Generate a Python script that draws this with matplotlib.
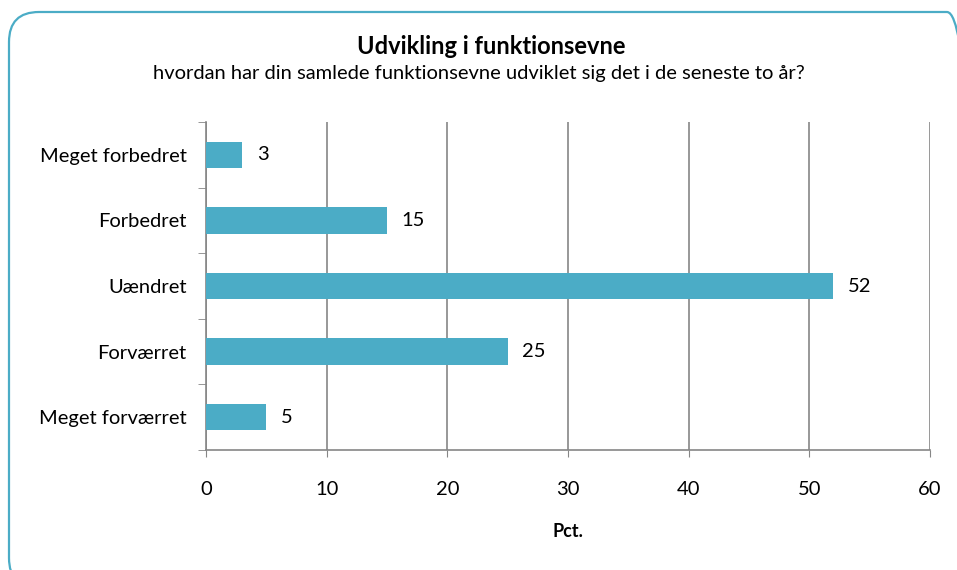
import matplotlib
matplotlib.use("Agg")
from matplotlib import pyplot as plt
from matplotlib.patches import FancyBboxPatch

categories = ["Meget forbedret", "Forbedret", "Uændret", "Forværret", "Meget forværret"]
values = [3, 15, 52, 25, 5]
xticks = [0, 10, 20, 30, 40, 50, 60]

plt.rcParams['font.family'] = ['Lato', 'DejaVu Sans']

bar_color = '#4BACC6'
grid_color = '#868686'
fs = 14.5
W, H = 957, 570

fig = plt.figure(figsize=(W / 100, H / 100), dpi=100)
ax = fig.add_axes([206/W, 1 - 450/H, (930 - 206)/W, (450 - 122)/H])

pos = list(range(len(categories)))[::-1]
ax.barh(pos, values, height=0.4, color=bar_color, zorder=3)
for p, v in zip(pos, values):
    ax.text(v + 1.2, p, str(v), va='center', ha='left', fontsize=fs)

ax.set_xlim(0, 60)
ax.set_ylim(-0.5, len(categories) - 0.5)
ax.set_xticks(xticks)
ax.set_xticklabels([str(t) for t in xticks], fontsize=fs)
ax.tick_params(axis='x', length=5, color=grid_color, pad=17)
ax.set_yticks(pos)
ax.set_yticklabels(categories, fontsize=fs)
ax.tick_params(axis='y', length=0, pad=14)
# tick marks between categories
ax.set_yticks([i - 0.5 for i in range(len(categories) + 1)], minor=True)
ax.tick_params(axis='y', which='minor', length=6, color=grid_color)
ax.xaxis.grid(True, color=grid_color, linewidth=1.2, zorder=0)
for s in ['top', 'right']:
    ax.spines[s].set_visible(False)
for s in ['left', 'bottom']:
    ax.spines[s].set_color(grid_color)
    ax.spines[s].set_linewidth(1.2)

ax.set_xlabel('Pct.', fontsize=13, fontweight='bold', labelpad=18)

fig.text(491/W, 1 - 47/H, 'Udvikling i funktionsevne', ha='center', va='center',
         fontsize=17, fontweight='bold')
fig.text(479/W, 1 - 74/H,
         'hvordan har din samlede funktionsevne udviklet sig det i de seneste to år?',
         ha='center', va='center', fontsize=fs)

# rounded frame; right and bottom edges run just past the canvas
border = FancyBboxPatch((9/W, -18/H), 968/W, 576/H,
                        boxstyle="round,pad=0,rounding_size=%f" % (30/W),
                        mutation_aspect=W/H, transform=fig.transFigure,
                        fill=False, edgecolor=bar_color, linewidth=1.6)
fig.add_artist(border)

fig.savefig('out.png', dpi=100)
